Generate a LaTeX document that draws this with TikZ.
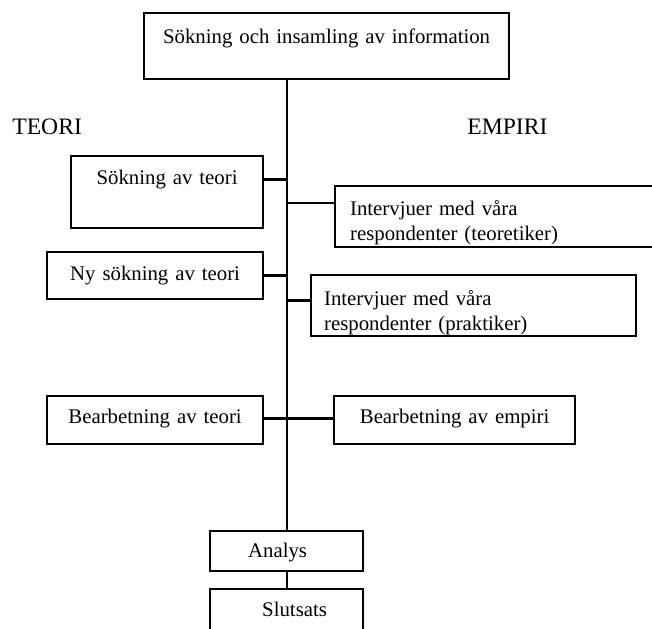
\documentclass[tikz,border=0pt]{standalone}
\usepackage{fontspec}
\setmainfont{Liberation Serif}
\usetikzlibrary{calc}

\tikzset{
  box/.style={draw, line width=1.1pt, inner sep=0pt, align=center, anchor=north west,
    font=\fontsize{10.4}{12.5}\selectfont},
  head/.style={anchor=west, inner sep=0pt, font=\fontsize{11.8}{14}\selectfont},
  link/.style={line width=1.1pt}
}

\begin{document}
\begin{tikzpicture}[x=0.5pt, y=-0.5pt]
  \useasboundingbox (0,0) rectangle (652,628);

  % --- Start ---
  \node[box, text width=182.5pt, text height=15pt, text depth=18pt] (info) at (143,12) {Sökning och insamling av information};
  \node[head] (teori) at (12,127) {TEORI};
  \node[head] (empiri) at (467,127) {EMPIRI};

  % --- Teori ---
  \node[box, text width=96pt, text height=14pt, text depth=22pt] (sok) at (70,155) {Sökning av teori};
  \node[box, text width=108pt, text height=14pt, text depth=9.5pt] (nysok) at (46,251) {Ny sökning av teori};
  \node[box, text width=108pt, text height=13.5pt, text depth=10.5pt] (bearbteo) at (46,395) {Bearbetning av teori};

  % --- Empiri ---
  \node[box, align=left, inner xsep=7.5pt, text width=163pt, text height=14.5pt, text depth=16pt] (intteo) at (334,185) {Intervjuer med våra\\respondenter (teoretiker)};
  \node[box, align=left, inner xsep=6.5pt, text width=149.5pt, text height=15pt, text depth=15.5pt] (intprak) at (310,274) {Intervjuer med våra\\respondenter (praktiker)};
  \node[box, text width=120.5pt, text height=13.5pt, text depth=10.5pt] (bearbemp) at (333,395) {Bearbetning av empiri};

  % --- Slut ---
  \node[box, text width=76.5pt, text height=13pt, text depth=7pt] (analys) at (209,530) {\hspace*{-9pt}Analys};
  \node[box, text width=76.5pt, text height=13.5pt, text depth=12.5pt] (slutsats) at (209,588) {\hspace*{8pt}Slutsats};

  % --- Linjer ---
  \coordinate (teoin) at ($(intteo.north west)+(0,18)$);
  \draw[link] (analys.north) -- (analys.north |- info.south);
  \draw[link] (sok.mid east) -- (sok.mid east -| analys.north);
  \draw[link] (nysok.mid east) -- (nysok.mid east -| analys.north);
  \draw[link] (teoin -| analys.north) -- (teoin);
  \draw[link] (intprak.mid west -| analys.north) -- (intprak.mid west);
  \draw[link] (bearbteo.mid east) -- (bearbemp.mid west);
  \draw[link] (analys) -- (slutsats);
\end{tikzpicture}
\end{document}
